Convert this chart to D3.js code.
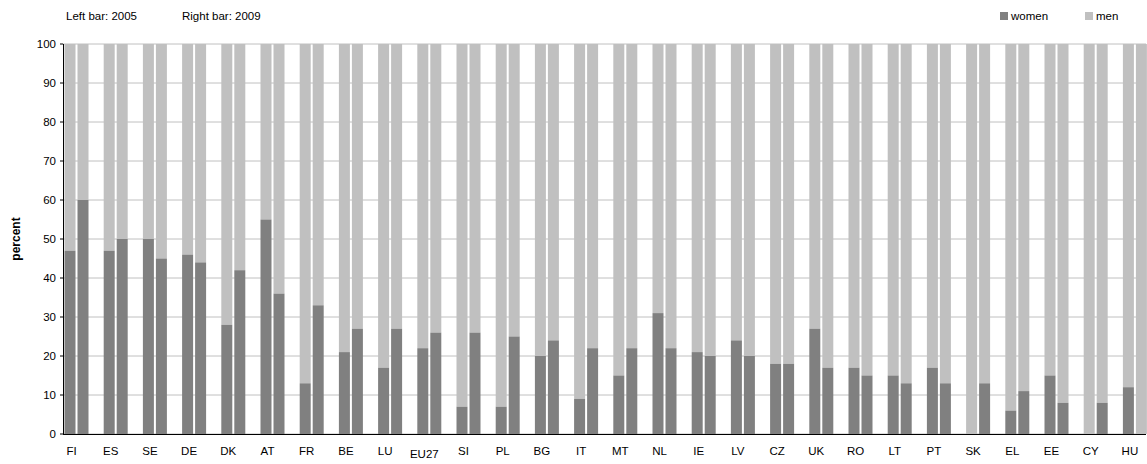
<!DOCTYPE html>
<html><head><meta charset="utf-8">
<script src="https://cdn.jsdelivr.net/npm/d3@7"></script>
<style>body{margin:0;background:#fff}text{font-family:"Liberation Sans",Arial,sans-serif}</style>
</head><body>
<script>
var countries = "FI ES SE DE DK AT FR BE LU EU27 SI PL BG IT MT NL IE LV CZ UK RO LT PT SK EL EE CY HU".split(' ')
var women2005 = [47,47,50,46,28,55,13,21,17,22,7,7,20,9,15,31,21,24,18,27,17,15,17,0,6,15,0,12]
var women2009 = [60,50,45,44,42,36,33,27,27,26,26,25,24,22,22,22,20,20,18,17,15,13,13,13,11,8,8,0]
var yTicks = [0,10,20,30,40,50,60,70,80,90,100]

var W = 1147, H = 464
var svg = d3.select('body').append('svg').attr('width', W).attr('height', H)
var x = d3.scaleBand().domain(countries).range([64.5, 64.5 + 28 * 39.2])
var y = d3.scaleLinear().domain([0, 100]).range([434, 44])
var dark = '#808080', light = '#c0c0c0'

svg.selectAll('.grid').data(yTicks).enter().append('line')
  .attr('x1', 63).attr('x2', 1146).attr('y1', y).attr('y2', y)
  .attr('stroke', '#c0c0c0').attr('stroke-width', 1)

var bw = 11
var g = svg.selectAll('.grp').data(countries).enter().append('g')
  .attr('transform', function(d) { return 'translate(' + x(d) + ',0)' })
;[[women2005, 0], [women2009, 13]].forEach(function(s) {
  g.append('rect').attr('x', s[1]).attr('width', bw)
    .attr('y', y(100)).attr('height', function(d, i) { return y(s[0][i]) - y(100) })
    .attr('fill', light)
  g.append('rect').attr('x', s[1]).attr('width', bw)
    .attr('y', function(d, i) { return y(s[0][i]) })
    .attr('height', function(d, i) { return y(0) - y(s[0][i]) })
    .attr('fill', dark)
})

svg.append('line').attr('x1', 63.5).attr('x2', 63.5).attr('y1', 44).attr('y2', 434).attr('stroke', '#000')
svg.append('line').attr('x1', 63).attr('x2', 1146).attr('y1', 434.5).attr('y2', 434.5).attr('stroke', '#000')

svg.selectAll('.yl').data(yTicks).enter().append('text')
  .attr('x', 56).attr('y', function(d) { return y(d) + 4 }).attr('text-anchor', 'end')
  .attr('font-size', 11.5).text(function(d) { return d })
svg.selectAll('.yt').data(yTicks).enter().append('line')
  .attr('x1', 60).attr('x2', 63).attr('y1', y).attr('y2', y).attr('stroke', '#000')

svg.selectAll('.xl').data(countries).enter().append('text')
  .attr('x', function(d) { return x(d) + 7 }).attr('y', function(d) { return d == 'EU27' ? 458 : 455 })
  .attr('text-anchor', 'middle').attr('font-size', 11.5).text(function(d) { return d })

svg.append('text').attr('transform', 'translate(20,239) rotate(-90)').attr('text-anchor', 'middle')
  .attr('font-size', 12).attr('font-weight', 'bold').text('percent')

svg.append('text').attr('x', 66).attr('y', 20).attr('font-size', 11.5).text('Left bar: 2005')
svg.append('text').attr('x', 182).attr('y', 20).attr('font-size', 11.5).text('Right bar: 2009')

var leg = [['women', dark, 1000], ['men', light, 1085]]
leg.forEach(function(l) {
  svg.append('rect').attr('x', l[2]).attr('y', 12).attr('width', 8).attr('height', 8).attr('fill', l[1])
  svg.append('text').attr('x', l[2] + 11).attr('y', 20).attr('font-size', 11.5).text(l[0])
})
</script>
</body></html>
